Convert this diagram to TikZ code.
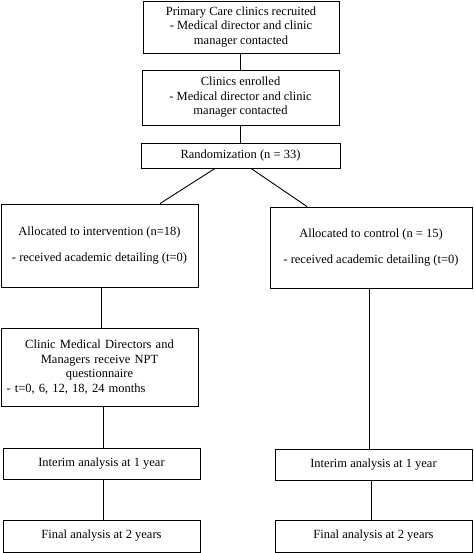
\documentclass[tikz,border=0pt]{standalone}
\usepackage{fontspec}
\setmainfont{Liberation Serif}
\begin{document}
\begin{tikzpicture}[x=1pt,y=-1pt,
  box/.style={draw, line width=0.9pt, inner sep=2pt, align=center, font=\fontsize{12.5}{14.5}\selectfont},
  conn/.style={line width=0.9pt}]
\useasboundingbox (0,0) rectangle (473,553);
\node[box, minimum width=196pt, minimum height=52pt] (rec) at (241,27) {Primary Care clinics recruited\\- Medical director and clinic\\manager contacted};
\node[box, minimum width=197pt, minimum height=55pt] (enr) at (240.5,97.5) {Clinics enrolled\\- Medical director and clinic\\manager contacted};
\node[box, minimum width=199pt, minimum height=25pt] (rand) at (240.5,155.5) {Randomization (n = 33)};
\node[box, minimum width=197pt, minimum height=83pt] (intv) at (99.5,245.5) {Allocated to intervention (n=18)\\[11pt]- received academic detailing (t=0)};
\node[box, minimum width=202pt, minimum height=81pt] (ctrl) at (371,247.5) {Allocated to control (n = 15)\\[11pt]- received academic detailing (t=0)};
\node[box, minimum width=197pt, minimum height=78pt, text width=186pt] (npt) at (99.5,367) {Clinic Medical Directors and\\Managers receive NPT\\questionnaire\\\makebox[186pt][l]{- t=0, 6, 12, 18, 24 months}};
\node[box, minimum width=197pt, minimum height=31pt] (intL) at (101.5,463.5) {Interim analysis at 1 year};
\node[box, minimum width=197pt, minimum height=32pt] (finL) at (101.5,536) {Final analysis at 2 years};
\node[box, minimum width=197pt, minimum height=31pt] (intR) at (373.5,464.5) {Interim analysis at 1 year};
\node[box, minimum width=197pt, minimum height=32pt] (finR) at (373.5,536) {Final analysis at 2 years};
\draw[conn] ([xshift=-1pt]rec.south) -- ([xshift=-1pt]rec.south |- enr.north);
\draw[conn] (enr.south) -- (enr.south |- rand.north);
\draw[conn] ([xshift=-25.5pt]rand.south) -- ([xshift=60.5pt]intv.north);
\draw[conn] ([xshift=10.5pt]rand.south) -- ([xshift=-64pt]ctrl.north);
\draw[conn] ([xshift=1.5pt]intv.south) -- ([xshift=1.5pt]intv.south |- npt.north);
\draw[conn] ([xshift=3.5pt]npt.south) -- ([xshift=3.5pt]npt.south |- intL.north);
\draw[conn] ([xshift=1.5pt]intL.south) -- ([xshift=1.5pt]intL.south |- finL.north);
\draw[conn] ([xshift=-2pt]ctrl.south) -- ([xshift=-2pt]ctrl.south |- intR.north);
\draw[conn] ([xshift=-2.5pt]intR.south) -- ([xshift=-2.5pt]intR.south |- finR.north);
\end{tikzpicture}
\end{document}
